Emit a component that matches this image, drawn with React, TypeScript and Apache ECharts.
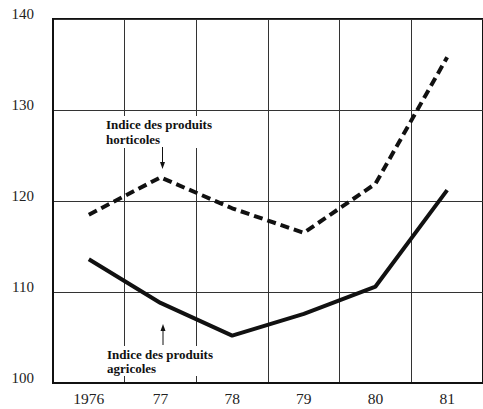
import React, { useEffect, useRef } from "react";
import * as echarts from "echarts";

const categories = ["1976", "77", "78", "79", "80", "81"];
const horticoles = [118.5, 122.6, 119.2, 116.5, 121.9, 135.8];
const agricoles = [113.6, 108.8, 105.2, 107.6, 110.6, 121.2];
const yTicks = { min: 100, max: 140, interval: 10 };

export default function App() {
  const ref = useRef<HTMLDivElement>(null);
  useEffect(() => {
    const chart = echarts.init(ref.current!, null, { renderer: "svg" });
    const serif = "'Liberation Serif', 'Times New Roman', serif";
    chart.setOption({
      animation: false,
      backgroundColor: "#ffffff",
      grid: {
        left: 53,
        top: 19,
        width: 432,
        height: 364,
        show: true,
        borderColor: "#111",
        borderWidth: 2,
        backgroundColor: "transparent",
      },
      xAxis: {
        type: "category",
        data: categories,
        boundaryGap: true,
        axisLine: { show: true, lineStyle: { color: "#111", width: 2 } },
        axisTick: { show: false },
        splitLine: { show: true, lineStyle: { color: "#333", width: 1 } },
        axisLabel: {
          color: "#222",
          fontFamily: serif,
          fontSize: 15.5,
          margin: 7,
        },
      },
      yAxis: {
        type: "value",
        min: yTicks.min,
        max: yTicks.max,
        interval: yTicks.interval,
        axisLine: { show: true, lineStyle: { color: "#111", width: 2 } },
        axisTick: { show: false },
        splitLine: { show: true, lineStyle: { color: "#333", width: 1 } },
        axisLabel: {
          color: "#222",
          fontFamily: serif,
          fontSize: 15,
          margin: 19,
          verticalAlign: "bottom",
          lineHeight: 11,
        },
      },
      series: [
        {
          type: "line",
          data: horticoles,
          symbol: "none",
          lineStyle: { color: "#111", width: 4, type: [9, 5] },
          z: 3,
        },
        {
          type: "line",
          data: agricoles,
          symbol: "none",
          lineStyle: { color: "#111", width: 4 },
          z: 3,
        },
      ],
      graphic: [
        {
          type: "text",
          x: 105,
          y: 116,
          z: 10,
          style: {
            text: "Indice des produits\nhorticoles",
            font: "bold 13px " + serif,
            fill: "#111",
            lineHeight: 15,
            backgroundColor: "#fff",
            padding: [1, 1, 1, 1],
          },
        },
        {
          type: "line",
          z: 10,
          shape: { x1: 162.5, y1: 147, x2: 162.5, y2: 164 },
          style: { stroke: "#111", lineWidth: 1 },
        },
        {
          type: "polygon",
          z: 10,
          shape: { points: [[160, 162], [165, 162], [162.5, 169]] },
          style: { fill: "#111" },
        },
        {
          type: "text",
          x: 106,
          y: 346,
          z: 10,
          style: {
            text: "Indice des produits\nagricoles",
            font: "bold 13px " + serif,
            fill: "#111",
            lineHeight: 14,
            backgroundColor: "#fff",
            padding: [1, 1, 1, 1],
          },
        },
        {
          type: "line",
          z: 10,
          shape: { x1: 163, y1: 345, x2: 163, y2: 329 },
          style: { stroke: "#111", lineWidth: 1 },
        },
        {
          type: "polygon",
          z: 10,
          shape: { points: [[160.5, 331], [165.5, 331], [163, 324]] },
          style: { fill: "#111" },
        },
      ],
    });
    return () => chart.dispose();
  }, []);
  return (
    <div
      ref={ref}
      style={{ position: "fixed", left: 0, top: 0, width: 483, height: 409 }}
    />
  );
}
